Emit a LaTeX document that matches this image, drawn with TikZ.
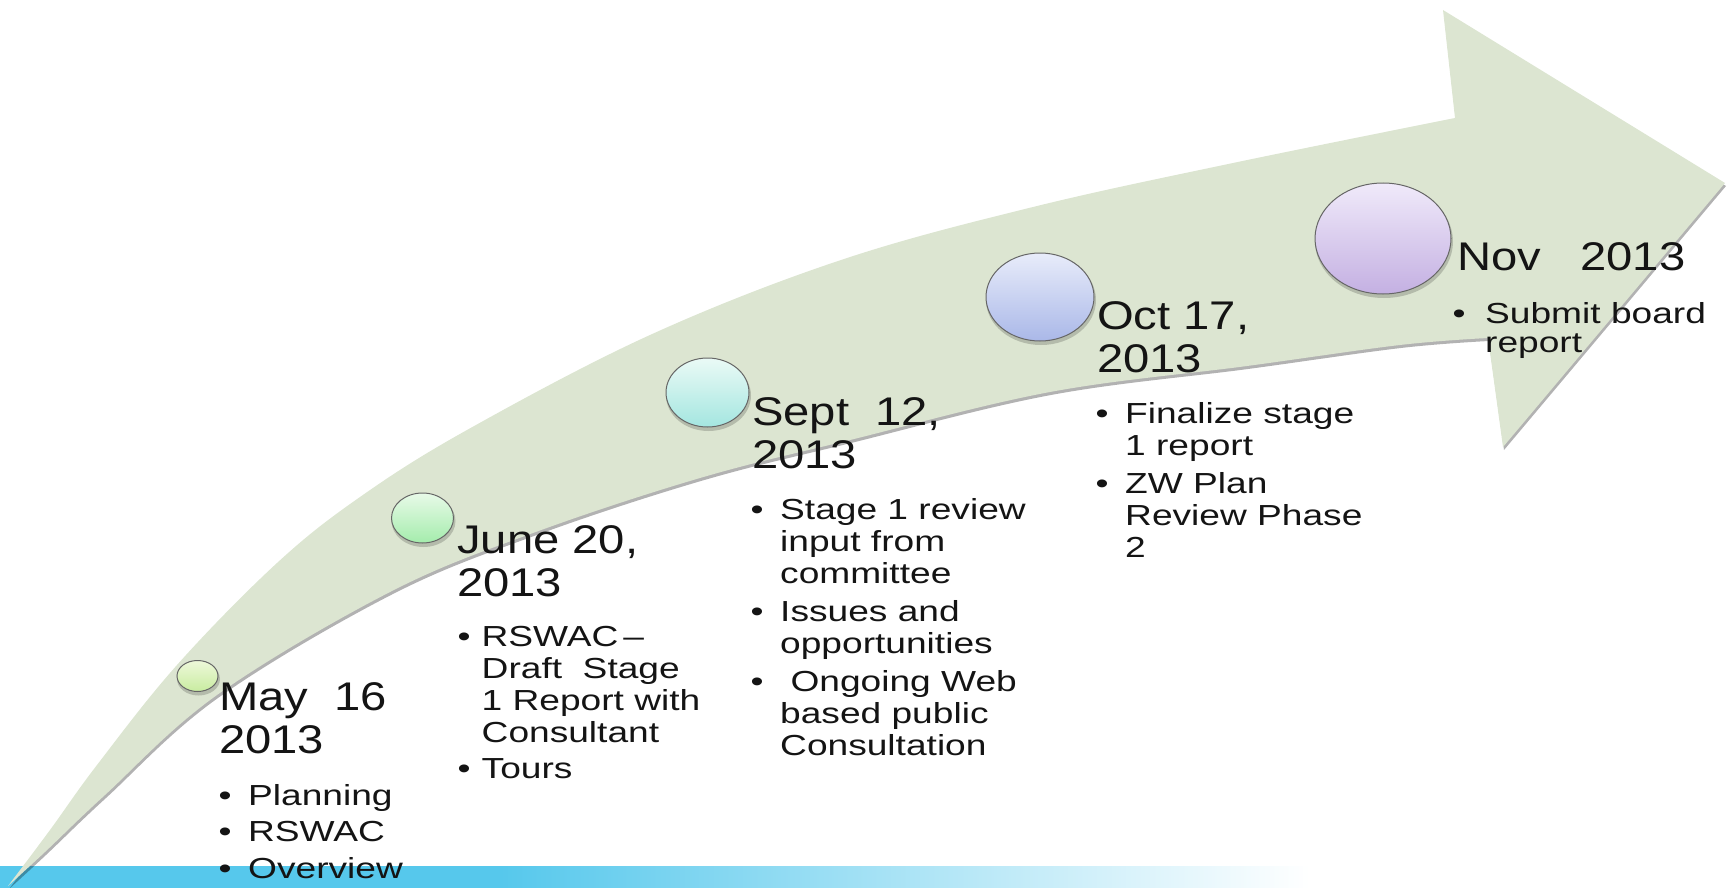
\documentclass[tikz,border=0pt]{standalone}
\usepackage{fontspec}
\setmainfont{Liberation Sans}
\newfontfamily\hfont[FakeStretch=1.18]{Liberation Sans}
\newfontfamily\bfont[FakeStretch=1.28]{Liberation Sans}
\usetikzlibrary{shapes.geometric}
\definecolor{arrowc}{RGB}{220,229,209}
\definecolor{barc}{RGB}{86,200,236}
\definecolor{c1a}{RGB}{238,248,218}\definecolor{c1b}{RGB}{200,236,160}
\definecolor{c2a}{RGB}{232,250,232}\definecolor{c2b}{RGB}{164,236,172}
\definecolor{c3a}{RGB}{234,250,246}\definecolor{c3b}{RGB}{164,230,224}
\definecolor{c4a}{RGB}{232,236,250}\definecolor{c4b}{RGB}{170,184,232}
\definecolor{c5a}{RGB}{240,234,250}\definecolor{c5b}{RGB}{196,176,226}
\newcommand{\bitem}[1]{\makebox[#1][l]{•}}
\begin{document}
\begin{tikzpicture}[x=1pt,y=-1pt,
  dot/.style={ellipse, draw=black!60, line width=1pt, inner sep=0pt},
  head/.style={anchor=base west, inner sep=0pt, align=left, text=black!92,
    font={\hfont\fontsize{40}{43}\selectfont}},
  blist/.style={anchor=base west, inner sep=0pt, align=left, text=black!92,
    font={\bfont\fontsize{29}{32}\selectfont}}]
\useasboundingbox (0,0) rectangle (1733,888);
% bottom bar
\fill[barc] (0,866) rectangle (500,888);
\fill[left color=barc, right color=white] (500,866) rectangle (1310,888);
% arrow
\def\arrowpath{(8,886) -- plot[smooth, tension=0.6] coordinates {(8,886) (50,830) (97,765) (177,665) (277,563) (360,497) (467,430) (650,335) (841,260) (1033,207) (1233,163) (1455,118)}
  -- (1443,10) -- (1725,183) -- (1503,447) -- (1488,338)
  -- plot[smooth, tension=0.6] coordinates {(1488,338) (1400,345) (1247,366) (1050,392) (850,440) (700,478) (533,533) (390,592) (217,695) (105,795) (45,852) (8,886)} -- cycle}
\begin{scope}[shift={(1,3)}]
\fill[black, opacity=0.3] \arrowpath;
\end{scope}
\fill[arrowc] \arrowpath;
% circle shadows
\foreach \x/\y/\rx/\ry in {197.5/676/20.5/15.5, 422.5/518/31/25, 707.5/392.5/41.5/34.5, 1040/297/54/44, 1383/238.5/68/55.5}
  \fill[black, opacity=0.18] (\x+1,\y+3) ellipse ({\rx+1} and {\ry+1});
% milestones
\node[dot, minimum width=41pt, minimum height=31pt, top color=c1a, bottom color=c1b] (m1) at (197.5,676) {};
\node[dot, minimum width=62pt, minimum height=50pt, top color=c2a, bottom color=c2b] (m2) at (422.5,518) {};
\node[dot, minimum width=83pt, minimum height=69pt, top color=c3a, bottom color=c3b] (m3) at (707.5,392.5) {};
\node[dot, minimum width=108pt, minimum height=88pt, top color=c4a, bottom color=c4b] (m4) at (1040,297) {};
\node[dot, minimum width=136pt, minimum height=111pt, top color=c5a, bottom color=c5b] (m5) at (1383,238.5) {};
% headings (anchored at the baseline of the last line)
\node[head] (h1) at (219,753) {May~~16\\2013};
\node[head] (h2) at (457,596) {June 20,\\2013};
\node[head] (h3) at (752,468) {Sept~~12,\\2013};
\node[head] (h4) at (1097,372) {Oct 17,\\2013};
\node[head] (h5) at (1457,270) {Nov~~~2013};
% bullet lists (anchored at the baseline of the last line)
\node[blist] (b1) at (218.5,878) {\bitem{29.5pt}Planning\\[4.5pt]\bitem{29.5pt}RSWAC\\[4.5pt]\bitem{29.5pt}Overview};
\node[blist] (b2) at (457.5,778) {\bitem{24pt}RSWAC\hspace{5pt}–\\\hspace*{24pt}Draft~~Stage\\\hspace*{24pt}1 Report with\\\hspace*{24pt}Consultant\\[4pt]\bitem{24pt}Tours};
\node[blist] (b3) at (750.5,755) {\bitem{29.5pt}Stage 1 review\\\hspace*{29.5pt}input from\\\hspace*{29.5pt}committee\\[6pt]\bitem{29.5pt}Issues and\\\hspace*{29.5pt}opportunities\\[6pt]\bitem{29.5pt}~Ongoing Web\\\hspace*{29.5pt}based public\\\hspace*{29.5pt}Consultation};
\node[blist] (b4) at (1095.5,557) {\bitem{29.5pt}Finalize stage\\\hspace*{29.5pt}1 report\\[6pt]\bitem{29.5pt}ZW Plan\\\hspace*{29.5pt}Review Phase\\\hspace*{29.5pt}2};
\node[blist] (b5) at (1452.5,352) {\bitem{32.5pt}Submit board\\[-3pt]\hspace*{32.5pt}report};
\end{tikzpicture}
\end{document}
